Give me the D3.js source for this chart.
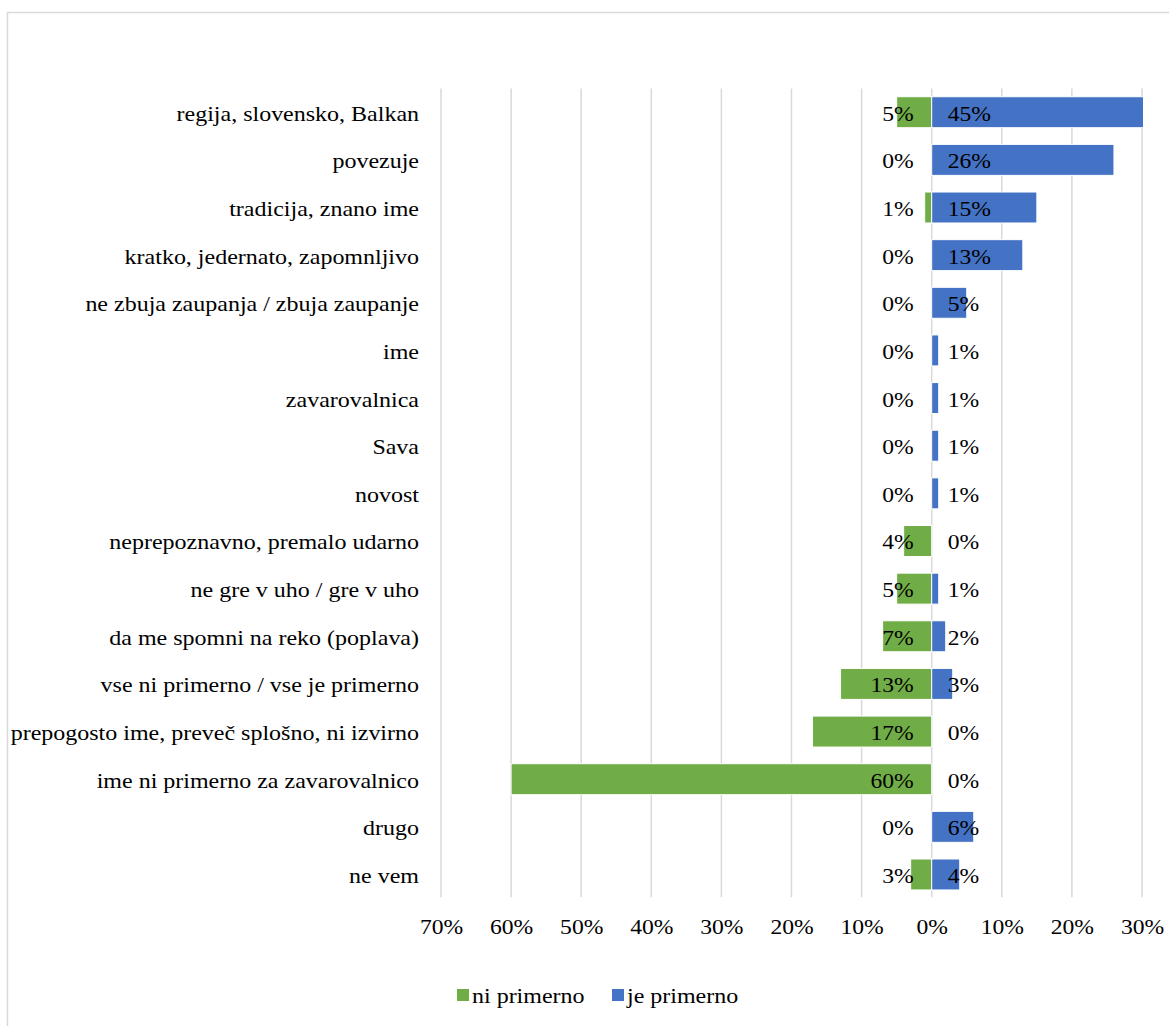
<!DOCTYPE html>
<html>
<head>
<meta charset="utf-8">
<script src="https://cdn.jsdelivr.net/npm/d3@7"></script>
<style>
  body { margin: 0; background: #fff; }
  svg { display: block; font-family: "Liberation Serif", "Times New Roman", serif; }
</style>
</head>
<body>
<svg id="chart" width="1169" height="1026"></svg>
<script>
// Reasons why the name is (not) suitable, in display order
const categories = [
  "regija, slovensko, Balkan",
  "povezuje",
  "tradicija, znano ime",
  "kratko, jedernato, zapomnljivo",
  "ne zbuja zaupanja / zbuja zaupanje",
  "ime",
  "zavarovalnica",
  "Sava",
  "novost",
  "neprepoznavno, premalo udarno",
  "ne gre v uho / gre v uho",
  "da me spomni na reko (poplava)",
  "vse ni primerno / vse je primerno",
  "prepogosto ime, preveč splošno, ni izvirno",
  "ime ni primerno za zavarovalnico",
  "drugo",
  "ne vem"
];
// Share of answers, in percent
const niPrimerno = [5, 0, 1, 0, 0, 0, 0, 0, 0, 4, 5, 7, 13, 17, 60, 0, 3];
const jePrimerno = [45, 26, 15, 13, 5, 1, 1, 1, 1, 0, 1, 2, 3, 0, 0, 6, 4];
const seriesNames = ["ni primerno", "je primerno"];
const xTicks = [-70, -60, -50, -40, -30, -20, -10, 0, 10, 20, 30];

const colors = { ni: "#70AD47", je: "#4472C4" };
const FONT = 20;
const svg = d3.select("#chart");

// widen glyphs horizontally around each text's own anchor point
function stretch(sel, k) {
  sel.each(function () {
    const t = d3.select(this);
    const ax = +t.attr("x") || 0;
    t.attr("x", ax / k).attr("transform", `scale(${k},1)`);
  });
}

// outer chart frame
svg.append("rect")
  .attr("x", 7.5).attr("y", 12.5)
  .attr("width", 1300).attr("height", 1200)
  .attr("fill", "none").attr("stroke", "#d9d9d9").attr("stroke-width", 1.5);

const plot = { left: 441, right: 1142, top: 88.4, bottom: 898.3 };

const x = d3.scaleLinear().domain([-70, 30]).range([plot.left, plot.right]);
const y = d3.scaleBand().domain(categories).range([plot.top, plot.bottom])
  .paddingInner(0.35).paddingOuter(0.175);

// vertical gridlines
svg.append("g").selectAll("line").data(xTicks).join("line")
  .attr("x1", d => x(d)).attr("x2", d => x(d))
  .attr("y1", plot.top).attr("y2", plot.bottom - 1)
  .attr("stroke", "#d9d9d9").attr("stroke-width", 1.5);

svg.append("clipPath").attr("id", "plotclip")
  .append("rect").attr("x", plot.left).attr("y", plot.top)
  .attr("width", plot.right - plot.left + 1).attr("height", plot.bottom - plot.top);

const bars = svg.append("g").attr("clip-path", "url(#plotclip)");
const rows = categories.map((c, i) => ({ c, ni: niPrimerno[i], je: jePrimerno[i] }));

bars.selectAll("rect.ni").data(rows).join("rect").attr("class", "ni")
  .attr("x", d => x(-d.ni)).attr("width", d => x(0) - x(-d.ni))
  .attr("y", d => y(d.c)).attr("height", y.bandwidth())
  .attr("fill", colors.ni).attr("stroke", "#fff").attr("stroke-width", d => d.ni ? 1 : 0);

bars.selectAll("rect.je").data(rows).join("rect").attr("class", "je")
  .attr("x", x(0)).attr("width", d => x(d.je) - x(0))
  .attr("y", d => y(d.c)).attr("height", y.bandwidth())
  .attr("fill", colors.je).attr("stroke", "#fff").attr("stroke-width", d => d.je ? 1 : 0);

// value labels at the inner base of each bar
const labels = svg.append("g").attr("font-size", FONT).attr("fill", "#000");
labels.selectAll("text.ni").data(rows).join("text").attr("class", "ni")
  .attr("x", x(0) - 18).attr("y", d => y(d.c) + y.bandwidth() / 2 + 8.5)
  .attr("text-anchor", "end").text(d => d.ni + "%").call(stretch, 1.18);
labels.selectAll("text.je").data(rows).join("text").attr("class", "je")
  .attr("x", x(0) + 16).attr("y", d => y(d.c) + y.bandwidth() / 2 + 8.5)
  .attr("text-anchor", "start").text(d => d.je + "%").call(stretch, 1.18);

// category axis
const yAxis = svg.append("g").attr("transform", `translate(${plot.left},0)`)
  .call(d3.axisLeft(y).tickSize(0).tickPadding(22));
yAxis.select(".domain").remove();
yAxis.selectAll("text").attr("font-size", FONT).attr("font-family", "Liberation Serif")
  .attr("fill", "#000").attr("dy", null).attr("y", 8.5).call(stretch, 1.2);

// percentage axis
const xAxis = svg.append("g").attr("transform", `translate(0,${plot.bottom})`)
  .call(d3.axisBottom(x).tickValues(xTicks).tickSize(0).tickFormat(d => Math.abs(d) + "%"));
xAxis.select(".domain").remove();
xAxis.selectAll("text").attr("font-size", FONT).attr("font-family", "Liberation Serif")
  .attr("fill", "#000").attr("dy", null).attr("y", 35.5).call(stretch, 1.18);

// legend
const legendItems = [
  { name: seriesNames[0], color: colors.ni, x: 457 },
  { name: seriesNames[1], color: colors.je, x: 612 }
];
const legend = svg.append("g");
legendItems.forEach(it => {
  legend.append("rect").attr("x", it.x).attr("y", 989).attr("width", 12).attr("height", 12).attr("fill", it.color);
  legend.append("text").attr("x", it.x + 15).attr("y", 1003).attr("font-size", FONT)
    .attr("fill", "#000").text(it.name).call(stretch, 1.2);
});
</script>
</body>
</html>
